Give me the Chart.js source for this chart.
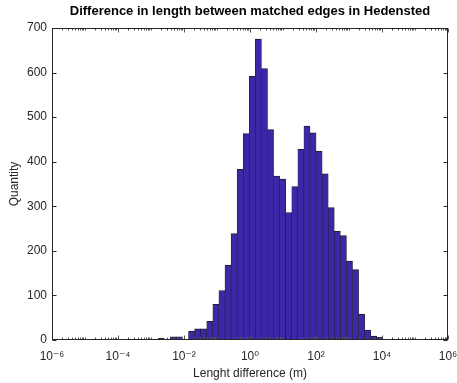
<!DOCTYPE html>
<html>
<head>
<meta charset="utf-8">
<script src="https://cdn.jsdelivr.net/npm/chart.js@4.4.1/dist/chart.umd.min.js"></script>
<style>
  html, body { margin: 0; padding: 0; background: #fff; }
  #wrap { width: 457px; height: 383px; }
</style>
</head>
<body>
<div id="wrap"><canvas id="histo" width="457" height="383"></canvas></div>
<script>
// histogram bins: centre of each bin as log10(length difference in m)
var binCentersLog = [-2.690, -2.506, -2.322, -2.138, -1.954, -1.770, -1.586, -1.402, -1.218, -1.034,
                     -0.850, -0.666, -0.482, -0.298, -0.114, 0.070, 0.254, 0.438, 0.622, 0.806,
                     0.990, 1.174, 1.358, 1.542, 1.726, 1.910, 2.094, 2.278, 2.462, 2.646,
                     2.830, 3.014, 3.198, 3.382, 3.566, 3.750, 3.934];
// counts
var binCounts = [4, 0, 7, 7, 0, 20, 25, 25, 42, 80,
                 111, 168, 239, 383, 463, 592, 675, 609, 472, 368,
                 361, 286, 344, 428, 480, 465, 424, 373, 297, 244,
                 234, 177, 158, 58, 22, 9, 6];

var xTickExponents = [-6, -4, -2, 0, 2, 4, 6];
var yTicks = [0, 100, 200, 300, 400, 500, 600, 700];

var axisColor = '#262626';
var fontFamily = '"Liberation Sans", Arial, Helvetica, "DejaVu Sans", sans-serif';

var supDigits = { '-': '\u207B', '0': '\u2070', '1': '\u00B9', '2': '\u00B2', '3': '\u00B3',
                  '4': '\u2074', '5': '\u2075', '6': '\u2076', '7': '\u2077', '8': '\u2078', '9': '\u2079' };
function toSup(n) {
    return String(n).split('').map(function (c) { return supDigits[c]; }).join('');
}

var points = binCentersLog.map(function (c, i) {
    return { x: Math.pow(10, c), y: binCounts[i] };
});

// matlab style box with inward ticks
var boxPlugin = {
    id: 'matlabBox',
    afterDatasetsDraw: function (chart) {
        var ctx = chart.ctx;
        var a = chart.chartArea;
        var xs = chart.scales.x, ys = chart.scales.y;
        var L = Math.round(a.left) + 0.5, R = Math.round(a.right) - 0.5;
        var T = Math.round(a.top) + 0.5, B = Math.round(a.bottom) - 0.5;
        ctx.save();
        ctx.strokeStyle = axisColor;
        ctx.lineWidth = 1;
        ctx.beginPath();
        yTicks.forEach(function (v) {
            var p = Math.round(ys.getPixelForValue(v)) + 0.5;
            ctx.moveTo(L, p); ctx.lineTo(L + 4, p);
            ctx.moveTo(R, p); ctx.lineTo(R - 4, p);
        });
        ctx.stroke();
        // minor ticks lighter
        ctx.beginPath();
        for (var e = -6; e <= 6; e++) {
            for (var m = 1; m < 10; m++) {
                var v = m * Math.pow(10, e);
                if (v > 1.0001e6) break;
                var p = Math.round(xs.getPixelForValue(v)) + 0.5;
                var major = (m === 1 && xTickExponents.indexOf(e) >= 0);
                var len = major ? 4 : 2;
                ctx.moveTo(p, B); ctx.lineTo(p, B - len);
                ctx.moveTo(p, T); ctx.lineTo(p, T + len);
            }
        }
        ctx.strokeStyle = '#555';
        ctx.stroke();
        ctx.strokeStyle = axisColor;
        ctx.strokeRect(L, T, R - L, B - T);
        ctx.restore();
    }
};

var ctx = document.getElementById('histo');
var chart = new Chart(ctx, {
    type: 'bar',
    data: {
        datasets: [{
            data: points,
            backgroundColor: 'rgb(62,38,168)',
            borderColor: '#1e1e2a',
            borderWidth: { left: 0.6, right: 0.6, top: 1, bottom: 0 },
            borderSkipped: false,
            barPercentage: 1.0,
            categoryPercentage: 1.0
        }]
    },
    plugins: [boxPlugin],
    options: {
        responsive: false,
        animation: false,
        devicePixelRatio: 1,
        layout: { padding: { left: 0, right: 9, top: 0, bottom: 0 } },
        plugins: {
            legend: { display: false },
            tooltip: { enabled: false },
            title: {
                display: true,
                fullSize: false,
                text: 'Difference in length between matched edges in Hedensted',
                color: '#000',
                font: { family: fontFamily, size: 13, weight: 'bold' },
                padding: { top: 4, bottom: 8.4 }
            }
        },
        scales: {
            x: {
                type: 'logarithmic',
                min: 1e-6,
                max: 1e6,
                offset: false,
                grid: { display: false, drawTicks: false },
                border: { display: false },
                afterBuildTicks: function (scale) {
                    scale.ticks = xTickExponents.map(function (e) { return { value: Math.pow(10, e) }; });
                },
                afterFit: function (scale) {
                    scale.height = 43;
                    scale.paddingLeft = 0;
                    scale.paddingRight = 0;
                },
                ticks: {
                    autoSkip: false,
                    maxRotation: 0,
                    padding: 9,
                    color: axisColor,
                    font: { family: fontFamily, size: 12 },
                    callback: function (value) {
                        return '10' + toSup(Math.round(Math.log10(value)));
                    }
                },
                title: {
                    display: true,
                    text: 'Lenght difference (m)',
                    color: axisColor,
                    font: { family: fontFamily, size: 12 },
                    padding: { top: 0, bottom: 2 }
                }
            },
            y: {
                min: 0,
                max: 700,
                grid: { display: false, drawTicks: false },
                border: { display: false },
                afterBuildTicks: function (scale) {
                    scale.ticks = yTicks.map(function (v) { return { value: v }; });
                },
                afterFit: function (scale) {
                    scale.width = 52;
                    scale.paddingTop = 0;
                    scale.paddingBottom = 0;
                },
                ticks: {
                    padding: 5,
                    color: axisColor,
                    font: { family: fontFamily, size: 12 }
                },
                title: {
                    display: true,
                    text: 'Quantity',
                    color: axisColor,
                    font: { family: fontFamily, size: 12 },
                    padding: { top: 7, bottom: 0 }
                }
            }
        }
    }
});
</script>
</body>
</html>
